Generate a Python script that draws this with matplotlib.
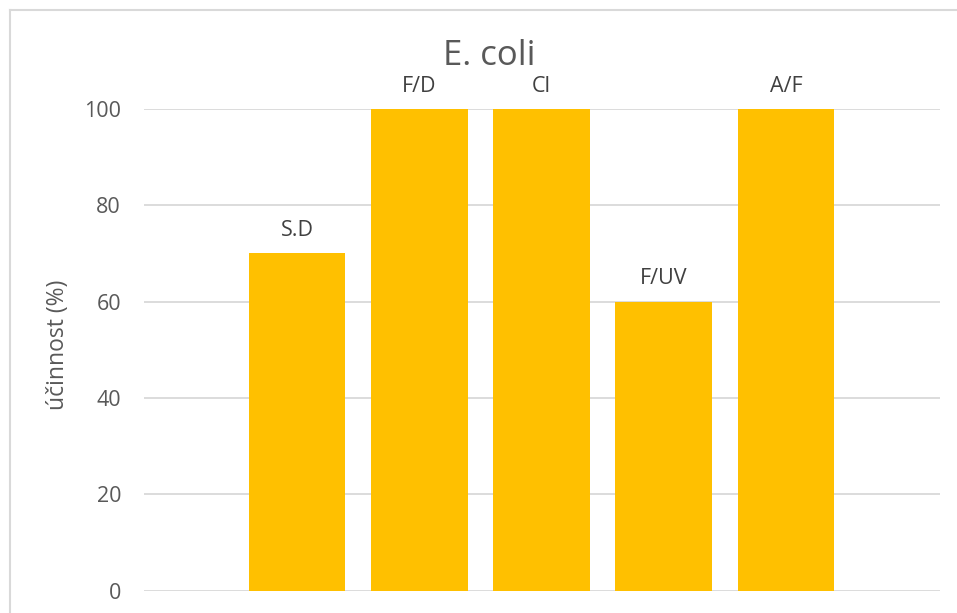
import matplotlib
matplotlib.use("Agg")
import matplotlib.pyplot as plt
from matplotlib.lines import Line2D

# Data
methods = ["S.D", "F/D", "Cl", "F/UV", "A/F"]
efficiency = [70, 100, 100, 60, 100]
y_ticks = [0, 20, 40, 60, 80, 100]

FONT = "Open Sans"
TEXT = "#595959"
LABEL = "#404040"
GRID = "#d9d9d9"
BAR = "#FFC000"

W, H = 957, 613
fig = plt.figure(figsize=(W / 100, H / 100), dpi=100)
ax = fig.add_axes([144 / W, 1 - 590.6 / H, (940 - 144) / W, (590.6 - 108.8) / H])

x = list(range(len(methods)))
bars = ax.bar(x, efficiency, width=0.793, color=BAR, zorder=3)

for rect, name in zip(bars, methods):
    ax.annotate(name, (rect.get_x() + rect.get_width() / 2, rect.get_height()),
                xytext=(0, 12.3), textcoords="offset points",
                ha="center", va="baseline", fontsize=15.5, color=LABEL, family=FONT)

ax.set_xlim(-1.2515, 5.26)
ax.set_ylim(0, 100)
ax.set_yticks(y_ticks)
ax.set_xticks([])
ax.yaxis.grid(True, color=GRID, linewidth=1.3, zorder=0)
ax.tick_params(axis="y", length=0, pad=16.5, labelsize=15.5, labelcolor=TEXT)
for lbl in ax.get_yticklabels():
    lbl.set_family(FONT)
for s in ax.spines.values():
    s.set_visible(False)

fig.text(58 / W, 1 - 345 / H, "účinnost (%)", rotation=90, ha="center", va="center",
         fontsize=16.5, color=TEXT, family=FONT)

fig.text(489 / W, 1 - 65 / H, "E. coli", ha="center", va="baseline",
         fontsize=25, color=TEXT, family=FONT)

# Chart-area frame (left and top edges)
fig.add_artist(Line2D([9.5 / W, 9.5 / W], [0, 1 - 9.5 / H], transform=fig.transFigure,
                      color=GRID, linewidth=1.5))
fig.add_artist(Line2D([9.5 / W, 1], [1 - 9.5 / H, 1 - 9.5 / H], transform=fig.transFigure,
                      color=GRID, linewidth=1.5))

fig.savefig("out.png", dpi=100)
